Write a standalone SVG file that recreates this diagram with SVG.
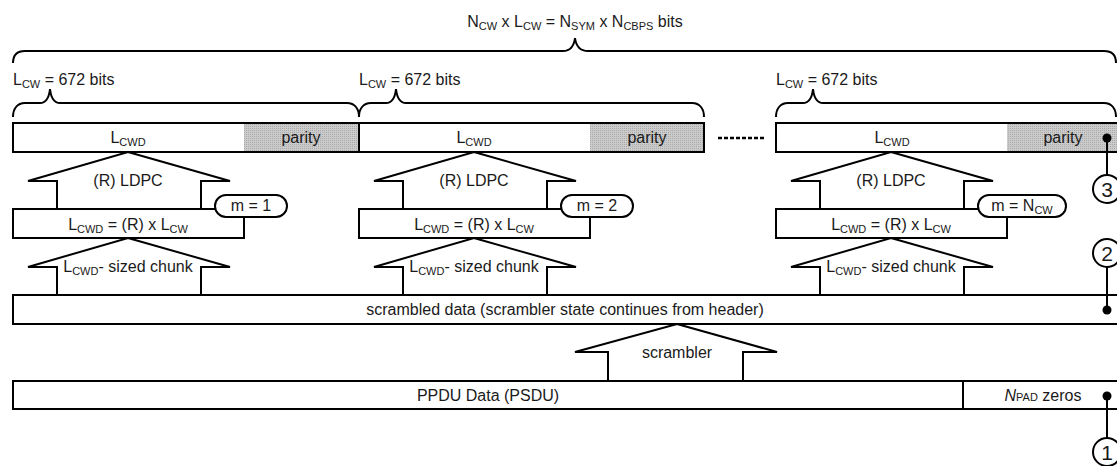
<svg xmlns="http://www.w3.org/2000/svg" width="1117" height="466" viewBox="0 0 1117 466">
<style>
.t{font-family:"Liberation Sans",Arial,sans-serif;font-size:16px;fill:#1a1a1a}
.m{text-anchor:middle}
.sub{font-size:11px}
.ln{fill:none;stroke:#000;stroke-width:2}
.bx{fill:#fff;stroke:#000;stroke-width:2}
.par{fill:url(#dots);stroke:none}
.ci{fill:#fff;stroke:#000;stroke-width:2}
.num{font-family:"Liberation Sans",Arial,sans-serif;font-size:21px;fill:#1a1a1a;text-anchor:middle}
</style>
<defs>
<pattern id="dots" width="2" height="2" patternUnits="userSpaceOnUse">
<rect width="2" height="2" fill="#cbcbcb"/>
<rect width="1" height="1" fill="#a9a9a9"/>
</pattern>
</defs>
<rect width="1117" height="466" fill="#fff"/>

<g id="total-brace">
<path class="ln" d="M13,63 C13,55 17,51 25,51 L563,51 C570,51 574,46 575,38 C576,46 580,51 588,51 L1104,51 C1112,51 1116,55 1116,63"/>
<text class="t m" x="575" y="27">N<tspan class="sub" dy="3">CW</tspan><tspan dy="-3"> x L</tspan><tspan class="sub" dy="3">CW</tspan><tspan dy="-3"> = N</tspan><tspan class="sub" dy="3">SYM</tspan><tspan dy="-3"> x N</tspan><tspan class="sub" dy="3">CBPS</tspan><tspan dy="-3"> bits</tspan></text>
</g>

<g id="brace-1">
<path class="ln" d="M13,117 C13,109 17,103 25,103 L40,103 C46,103 49,98 50,89 C51,98 54,103 60,103 L347,103 C355,103 359,109 359,117"/>
<text class="t" x="13" y="85">L<tspan class="sub" dy="3">CW</tspan><tspan dy="-3"> = 672 bits</tspan></text>
</g>
<g id="brace-2">
<path class="ln" d="M359,117 C359,109 363,103 371,103 L386,103 C392,103 395,98 396,89 C397,98 400,103 406,103 L692,103 C700,103 704,109 704,117"/>
<text class="t" x="359" y="85">L<tspan class="sub" dy="3">CW</tspan><tspan dy="-3"> = 672 bits</tspan></text>
</g>
<g id="brace-3">
<path class="ln" d="M776,117 C776,109 780,103 788,103 L803,103 C809,103 812,98 813,89 C814,98 817,103 823,103 L1104,103 C1112,103 1116,109 1116,117"/>
<text class="t" x="776" y="85">L<tspan class="sub" dy="3">CW</tspan><tspan dy="-3"> = 672 bits</tspan></text>
</g>

<g id="codeword-1">
<rect class="bx" x="13" y="123" width="346" height="29"/>
<rect class="par" x="244" y="124" width="114" height="27"/>
<text class="t m" x="128" y="143">L<tspan class="sub" dy="3">CWD</tspan></text>
<text class="t m" x="301" y="143">parity</text>
</g>
<g id="codeword-2">
<rect class="bx" x="359" y="123" width="345" height="29"/>
<rect class="par" x="590" y="124" width="113" height="27"/>
<text class="t m" x="474" y="143">L<tspan class="sub" dy="3">CWD</tspan></text>
<text class="t m" x="647" y="143">parity</text>
</g>
<g id="ellipsis">
<line x1="718" y1="138" x2="764" y2="138" stroke="#000" stroke-width="2.5" stroke-dasharray="4 2"/>
</g>
<g id="codeword-3">
<rect class="bx" x="776" y="123" width="350" height="29"/>
<rect class="par" x="1007" y="124" width="118" height="27"/>
<text class="t m" x="892" y="143">L<tspan class="sub" dy="3">CWD</tspan></text>
<text class="t m" x="1063" y="143">parity</text>
</g>

<g id="ldpc-1">
<polygon class="bx" points="128,152 230,181 201,181 201,209 57,209 57,181 28,181"/>
<text class="t m" x="128" y="186">(R) LDPC</text>
</g>
<g id="ldpc-2">
<polygon class="bx" points="474,152 576,181 547,181 547,209 403,209 403,181 374,181"/>
<text class="t m" x="474" y="186">(R) LDPC</text>
</g>
<g id="ldpc-3">
<polygon class="bx" points="891,152 993,181 964,181 964,209 820,209 820,181 791,181"/>
<text class="t m" x="891" y="186">(R) LDPC</text>
</g>

<g id="rate-1">
<rect class="bx" x="13" y="209" width="231" height="29"/>
<text class="t m" x="128" y="230">L<tspan class="sub" dy="3">CWD</tspan><tspan dy="-3"> = (R) x L</tspan><tspan class="sub" dy="3">CW</tspan></text>
</g>
<g id="rate-2">
<rect class="bx" x="359" y="209" width="231" height="29"/>
<text class="t m" x="474" y="230">L<tspan class="sub" dy="3">CWD</tspan><tspan dy="-3"> = (R) x L</tspan><tspan class="sub" dy="3">CW</tspan></text>
</g>
<g id="rate-3">
<rect class="bx" x="776" y="209" width="231" height="29"/>
<text class="t m" x="891" y="230">L<tspan class="sub" dy="3">CWD</tspan><tspan dy="-3"> = (R) x L</tspan><tspan class="sub" dy="3">CW</tspan></text>
</g>

<g id="m-1">
<rect class="bx" x="215" y="195" width="72" height="22" rx="11"/>
<text class="t m" x="251" y="211">m = 1</text>
</g>
<g id="m-2">
<rect class="bx" x="561" y="195" width="72" height="22" rx="11"/>
<text class="t m" x="597" y="211">m = 2</text>
</g>
<g id="m-3">
<rect class="bx" x="978" y="195" width="88" height="22" rx="11"/>
<text class="t m" x="1022" y="211">m = N<tspan class="sub" dy="3">CW</tspan></text>
</g>

<g id="chunk-1">
<polygon class="bx" points="128,238 230,267 201,267 201,295 57,295 57,267 28,267"/>
<text class="t m" x="128" y="272">L<tspan class="sub" dy="3">CWD</tspan><tspan dy="-3">- sized chunk</tspan></text>
</g>
<g id="chunk-2">
<polygon class="bx" points="474,238 576,267 547,267 547,295 403,295 403,267 374,267"/>
<text class="t m" x="474" y="272">L<tspan class="sub" dy="3">CWD</tspan><tspan dy="-3">- sized chunk</tspan></text>
</g>
<g id="chunk-3">
<polygon class="bx" points="891,238 993,267 964,267 964,295 820,295 820,267 791,267"/>
<text class="t m" x="891" y="272">L<tspan class="sub" dy="3">CWD</tspan><tspan dy="-3">- sized chunk</tspan></text>
</g>

<g id="scrambled">
<rect class="bx" x="13" y="295" width="1115" height="29"/>
<text class="t m" x="565" y="315">scrambled data (scrambler state continues from header)</text>
</g>

<g id="scrambler">
<polygon class="bx" points="677,324 777,352 743,352 743,381 608,381 608,352 575,352"/>
<text class="t m" x="677" y="358">scrambler</text>
</g>

<g id="ppdu">
<rect class="bx" x="13" y="381" width="1115" height="28"/>
<line class="ln" x1="963" y1="381" x2="963" y2="409"/>
<text class="t m" x="488" y="401">PPDU Data (PSDU)</text>
<text class="t m" x="1043" y="401"><tspan font-style="italic">N</tspan><tspan class="sub">PAD</tspan> zeros</text>
</g>

<g id="connectors">
<line class="ln" x1="1107" y1="138" x2="1107" y2="175"/>
<circle cx="1107" cy="138" r="4.5" fill="#000"/>
<line class="ln" x1="1107" y1="267" x2="1107" y2="310"/>
<circle cx="1107" cy="310" r="4.5" fill="#000"/>
<line class="ln" x1="1107" y1="396" x2="1107" y2="438"/>
<circle cx="1107" cy="396" r="4.5" fill="#000"/>
</g>

<g id="marker-3">
<circle class="ci" cx="1107" cy="189" r="14"/>
<text class="num" x="1107" y="197">3</text>
</g>
<g id="marker-2">
<circle class="ci" cx="1107" cy="253" r="14"/>
<text class="num" x="1107" y="261">2</text>
</g>
<g id="marker-1">
<circle class="ci" cx="1107" cy="452" r="14"/>
<text class="num" x="1107" y="460">1</text>
</g>
</svg>
